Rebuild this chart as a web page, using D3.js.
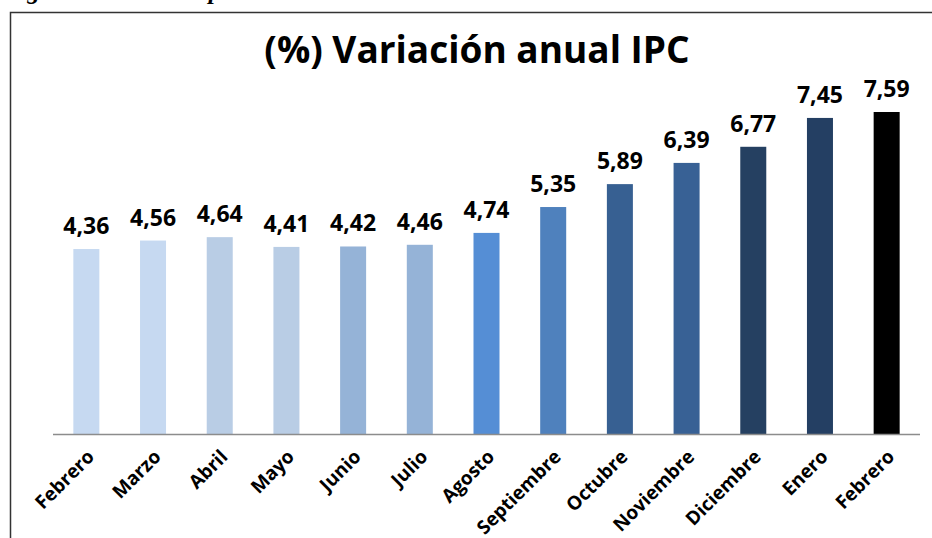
<!DOCTYPE html>
<html>
<head>
<meta charset="utf-8">
<script src="https://cdn.jsdelivr.net/npm/d3@7"></script>
<style>
  html, body { margin: 0; padding: 0; background: #fff; }
  svg { display: block; }
</style>
</head>
<body>
<svg id="chart" width="932" height="538"></svg>
<script>
const months = ["Febrero","Marzo","Abril","Mayo","Junio","Julio","Agosto","Septiembre","Octubre","Noviembre","Diciembre","Enero","Febrero"];
const values = [4.36,4.56,4.64,4.41,4.42,4.46,4.74,5.35,5.89,6.39,6.77,7.45,7.59];
const barColors = ["#c6d9f1","#c6d9f1","#b9cde5","#b9cde5","#95b3d7","#95b3d7","#558ed5","#4f81bd","#376092","#386195","#254061","#243f63","#000000"];
const titleText = "(%) Variación anual IPC";
const captionText = "Figura 1. Índice de precios al consumidor";

const svg = d3.select("#chart");
const W = 932, H = 538;
const baseY = 434, left = 53, right = 920;

// caption cut at top (only descenders visible, as in the reference)
svg.append("text")
  .attr("x", 4).attr("y", -1)
  .attr("font-family", "Liberation Serif, serif")
  .attr("font-style", "italic").attr("font-weight", "bold")
  .attr("font-size", 25)
  .attr("fill", "#000")
  .text(captionText);

// frame
svg.append("path")
  .attr("d", `M10.5,${H} L10.5,12.5 L${W},12.5`)
  .attr("fill", "none").attr("stroke", "#333").attr("stroke-width", 1.5);

const idx = months.map((d, i) => i);
const x = d3.scaleBand().domain(idx).range([left, right]).paddingInner(0.61).paddingOuter(0.305);
const y = d3.scaleLinear().domain([0, 7.59]).range([baseY, 112]);

// title
svg.append("text")
  .attr("x", 477).attr("y", 63)
  .attr("text-anchor", "middle")
  .attr("font-family", "Open Sans, sans-serif")
  .attr("font-weight", "bold")
  .attr("font-size", 37)
  .attr("fill", "#000")
  .text(titleText);

// bars
svg.selectAll("rect.bar").data(values).enter().append("rect")
  .attr("class", "bar")
  .attr("x", (d, i) => x(i))
  .attr("width", x.bandwidth())
  .attr("y", d => y(d))
  .attr("height", d => baseY - y(d))
  .attr("fill", (d, i) => barColors[i]);

// value labels
const fmt = d3.format(".2f");
svg.selectAll("text.val").data(values).enter().append("text")
  .attr("class", "val")
  .attr("x", (d, i) => x(i) + x.bandwidth() / 2)
  .attr("y", d => y(d) - 15)
  .attr("text-anchor", "middle")
  .attr("font-family", "Open Sans, sans-serif")
  .attr("font-weight", "bold")
  .attr("font-size", 23)
  .attr("fill", "#000")
  .text(d => fmt(d).replace(".", ","));

// x axis
const xAxis = d3.axisBottom(x).tickSize(0).tickFormat(i => months[i]);
const gx = svg.append("g").attr("transform", `translate(0,${baseY})`).call(xAxis);
gx.select(".domain").attr("stroke", "#8c8c8c").attr("stroke-width", 1.5).attr("d", `M${left},0.5H${right}`);
gx.selectAll(".tick text")
  .attr("font-family", "Open Sans, sans-serif")
  .attr("font-weight", "bold")
  .attr("font-size", 19)
  .attr("fill", "#000")
  .attr("text-anchor", "end")
  .attr("dy", null)
  .attr("y", 0)
  .attr("transform", "translate(9,24) rotate(-45)");
</script>
</body>
</html>
